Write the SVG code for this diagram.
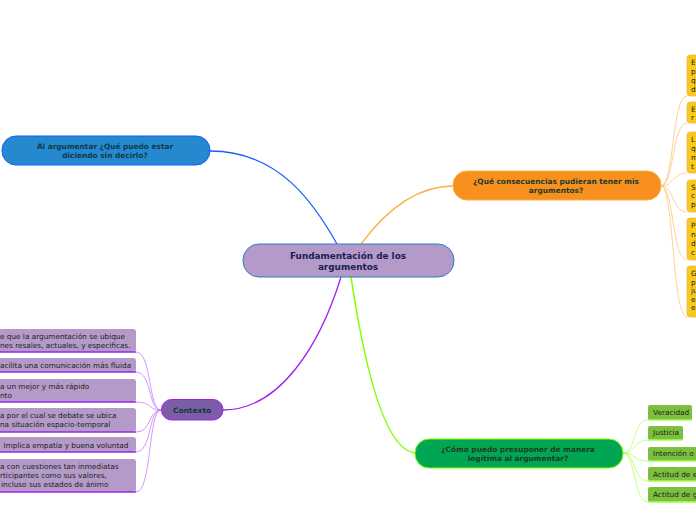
<svg xmlns="http://www.w3.org/2000/svg" width="696" height="520" viewBox="0 0 696 520">
<style>
.t{font-family:"DejaVu Sans",Verdana,sans-serif;}
.main{font-weight:bold;text-anchor:middle;}
.lb{font-size:7.3px;fill:#222;}
.rb{font-size:7.3px;fill:#222;}
.gb{font-size:7.3px;fill:#222;}
.lbox{fill:#b39ac8;}
.lbot{stroke:#a020f0;stroke-width:1.6;fill:none;}
.rbox{fill:#f7c81e;stroke:#f9b44a;stroke-width:0.8;}
.gbox{fill:#7dbf3f;}
.gbot{stroke:#a6ff4d;stroke-width:1.4;fill:none;}
.c{fill:none;}
</style>
<rect width="696" height="520" fill="#ffffff"/>
<g id="connectors">
<path class="c" d="M210,151 C280,151 315,205 337,244" stroke="#1a5cff" stroke-width="1.3"/>
<path class="c" d="M361,244 C390,205 420,186 453,186" stroke="#fbb040" stroke-width="1.3"/>
<path class="c" d="M341,277 C320,345 280,410 223,410" stroke="#a020f0" stroke-width="1.3"/>
<path class="c" d="M351,277 C365,370 385,450 415,453" stroke="#80ff00" stroke-width="1.5"/>
<g stroke="#c77dff" stroke-width="0.8">
<path class="c" d="M161,410 C148,410 152,352 136,352"/>
<path class="c" d="M161,410 C148,410 152,372 136,372"/>
<path class="c" d="M161,410 C148,410 152,402 136,402"/>
<path class="c" d="M161,410 C148,410 152,432 136,432"/>
<path class="c" d="M161,410 C148,410 152,452 136,452"/>
<path class="c" d="M161,410 C148,410 152,492 136,492"/>
</g>
<g stroke="#fdc77a" stroke-width="0.8">
<path class="c" d="M661,186 C674,186 672,96 687,96"/>
<path class="c" d="M661,186 C674,186 672,123 687,123"/>
<path class="c" d="M661,186 C674,186 672,173 687,173"/>
<path class="c" d="M661,186 C674,186 672,212 687,212"/>
<path class="c" d="M661,186 C674,186 672,260 687,260"/>
<path class="c" d="M661,186 C674,186 672,317 687,317"/>
</g>
<g stroke="#b3ff66" stroke-width="0.8">
<path class="c" d="M623,453 C636,453 633,420 648,420"/>
<path class="c" d="M623,453 C636,453 633,440 648,440"/>
<path class="c" d="M623,453 C636,453 633,461 648,461"/>
<path class="c" d="M623,453 C636,453 633,481 648,481"/>
<path class="c" d="M623,453 C636,453 633,502 648,502"/>
</g>
</g>
<g id="center">
<rect x="243" y="244" width="211" height="33" rx="16" fill="#b39ac8" stroke="#2a7fc0" stroke-width="1"/>
<text class="t main" x="348" y="259" font-size="8.9" fill="#1c1c5a">Fundamentación de los</text>
<text class="t main" x="348" y="270" font-size="8.9" fill="#1c1c5a">argumentos</text>
</g>
<g id="blue">
<rect x="2" y="136" width="208" height="29" rx="14" fill="#2589cf" stroke="#1a5cff" stroke-width="1"/>
<text class="t main" x="105" y="148.5" font-size="7.4" fill="#0f3a4a">Al argumentar ¿Qué puedo estar</text>
<text class="t main" x="105" y="157.5" font-size="7.4" fill="#0f3a4a">diciendo sin decirlo?</text>
</g>
<g id="orange">
<rect x="453" y="171" width="208" height="29" rx="14" fill="#f7901e" stroke="#fbb040" stroke-width="1"/>
<text class="t main" x="556" y="184" font-size="7.4" fill="#1e3a2a">¿Qué consecuencias pudieran tener mis</text>
<text class="t main" x="556" y="193" font-size="7.4" fill="#1e3a2a">argumentos?</text>
</g>
<g id="green">
<rect x="415" y="439" width="208" height="29" rx="14" fill="#00a651" stroke="#80ff00" stroke-width="1"/>
<text class="t main" x="518" y="452" font-size="7.4" fill="#1e3a2a">¿Cómo puedo presuponer de manera</text>
<text class="t main" x="518" y="461" font-size="7.4" fill="#1e3a2a">legítima al argumentar?</text>
</g>
<g id="contexto">
<rect x="161.5" y="399.5" width="61.5" height="20.5" rx="10" fill="#7b5ea7" stroke="#a020f0" stroke-width="1"/>
<text class="t main" x="192" y="412.5" font-size="7.5" fill="#0f3a3a">Contexto</text>
</g>
<g id="ctx1">
<rect class="lbox" x="-10" y="329" width="146" height="23" rx="3"/>
<path class="lbot" d="M-10,352 H136"/>
<text class="t lb" x="0" y="338.5">e que la argumentación se ubique</text>
<text class="t lb" x="0" y="347.5">nes resales, actuales, y especificas.</text>
</g>
<g id="ctx2">
<rect class="lbox" x="-10" y="358" width="146" height="14" rx="3"/>
<path class="lbot" d="M-10,372 H136"/>
<text class="t lb" x="0" y="367.5">acilita una comunicación más fluida</text>
</g>
<g id="ctx3">
<rect class="lbox" x="-10" y="379" width="146" height="23" rx="3"/>
<path class="lbot" d="M-10,402 H136"/>
<text class="t lb" x="0" y="389">a un mejor y más rápido</text>
<text class="t lb" x="0" y="397.5">nto</text>
</g>
<g id="ctx4">
<rect class="lbox" x="-10" y="408" width="146" height="24" rx="3"/>
<path class="lbot" d="M-10,432 H136"/>
<text class="t lb" x="0" y="418">a por el cual se debate se ubica</text>
<text class="t lb" x="0" y="426.5">na situación espacio-temporal</text>
</g>
<g id="ctx5">
<rect class="lbox" x="-10" y="437" width="146" height="15" rx="3"/>
<path class="lbot" d="M-10,452 H136"/>
<text class="t lb" x="3.5" y="447.5">Implica empatía y buena voluntad</text>
</g>
<g id="ctx6">
<rect class="lbox" x="-10" y="459" width="146" height="33" rx="3"/>
<path class="lbot" d="M-10,492 H136"/>
<text class="t lb" x="0" y="468.5">a con cuestiones tan inmediatas</text>
<text class="t lb" x="0" y="477.5">rticipantes como sus valores,</text>
<text class="t lb" x="1" y="486.5">incluso sus estados de ánimo</text>
</g>
<g id="cons1">
<rect class="rbox" x="687" y="55" width="20" height="41" rx="3"/>
<text class="t rb" x="691" y="65">E</text>
<text class="t rb" x="691" y="74">p</text>
<text class="t rb" x="691" y="83">q</text>
<text class="t rb" x="691" y="91.5">d</text>
</g>
<g id="cons2">
<rect class="rbox" x="687" y="102" width="20" height="21" rx="3"/>
<text class="t rb" x="691" y="111.5">E</text>
<text class="t rb" x="691" y="120">r</text>
</g>
<g id="cons3">
<rect class="rbox" x="687" y="132" width="20" height="41" rx="3"/>
<text class="t rb" x="691" y="142">L</text>
<text class="t rb" x="691" y="151">q</text>
<text class="t rb" x="691" y="160">m</text>
<text class="t rb" x="691" y="168.5">t</text>
</g>
<g id="cons4">
<rect class="rbox" x="687" y="180" width="20" height="32" rx="3"/>
<text class="t rb" x="691" y="189.5">S</text>
<text class="t rb" x="691" y="198">c</text>
<text class="t rb" x="691" y="206.5">p</text>
</g>
<g id="cons5">
<rect class="rbox" x="687" y="218" width="20" height="42" rx="3"/>
<text class="t rb" x="691" y="227.5">P</text>
<text class="t rb" x="691" y="236.5">n</text>
<text class="t rb" x="691" y="245.5">d</text>
<text class="t rb" x="691" y="254.5">c</text>
</g>
<g id="cons6">
<rect class="rbox" x="687" y="266" width="20" height="51" rx="3"/>
<text class="t rb" x="691" y="275.5">G</text>
<text class="t rb" x="691" y="284.5">p</text>
<text class="t rb" x="691" y="293">ju</text>
<text class="t rb" x="691" y="301.5">e</text>
<text class="t rb" x="691" y="310">e</text>
</g>
<g id="pres1">
<rect class="gbox" x="648" y="405" width="44" height="15" rx="2"/>
<path class="gbot" d="M648,420 H692"/>
<text class="t gb" x="653" y="414.5">Veracidad</text>
</g>
<g id="pres2">
<rect class="gbox" x="648" y="426" width="35" height="14" rx="2"/>
<path class="gbot" d="M648,440 H683"/>
<text class="t gb" x="653" y="435">Justicia</text>
</g>
<g id="pres3">
<rect class="gbox" x="648" y="447" width="60" height="14" rx="2"/>
<path class="gbot" d="M648,461 H708"/>
<text class="t gb" x="653" y="456">Intención o</text>
</g>
<g id="pres4">
<rect class="gbox" x="648" y="467" width="60" height="14" rx="2"/>
<path class="gbot" d="M648,481 H708"/>
<text class="t gb" x="653" y="476.5">Actitud de e</text>
</g>
<g id="pres5">
<rect class="gbox" x="648" y="487" width="60" height="15" rx="2"/>
<path class="gbot" d="M648,502 H708"/>
<text class="t gb" x="653" y="496.5">Actitud de g</text>
</g>
</svg>
